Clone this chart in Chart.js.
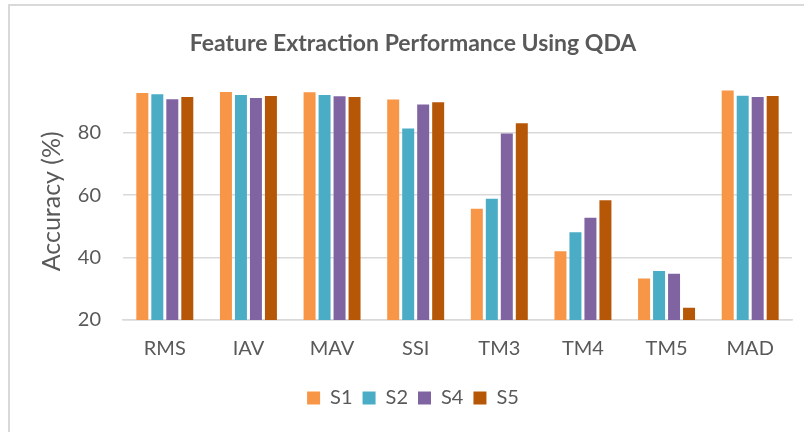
<!DOCTYPE html>
<html>
<head>
<meta charset="utf-8">
<script src="https://cdn.jsdelivr.net/npm/chart.js@4.4.1/dist/chart.umd.min.js"></script>
<style>
  html, body { margin: 0; padding: 0; background: #ffffff; }
  #frame { position: absolute; left: 8px; top: 4px; width: 900px; height: 500px; border: 2px solid #d9d9d9; box-sizing: border-box; }
  #wrap { position: absolute; left: 0; top: 0; width: 804px; height: 432px; }
</style>
</head>
<body>
<div id="frame"></div>
<div id="wrap"><canvas id="c" width="804" height="432"></canvas></div>
<script>
const categories = ['RMS', 'IAV', 'MAV', 'SSI', 'TM3', 'TM4', 'TM5', 'MAD'];
const seriesNames = ['S1', 'S2', 'S4', 'S5'];
const s1 = [92.7, 93.0, 92.9, 90.6, 55.6, 42.0, 33.3, 93.5];
const s2 = [92.3, 92.0, 92.0, 81.3, 58.8, 48.1, 35.7, 91.8];
const s4 = [90.7, 91.1, 91.6, 89.0, 79.7, 52.7, 34.8, 91.4];
const s5 = [91.4, 91.7, 91.4, 89.7, 83.0, 58.3, 23.9, 91.7];
const yTicks = [20, 40, 60, 80];
const colors = ['#F79646', '#4BACC6', '#8064A2', '#B65708'];

const values = [s1, s2, s4, s5];
const txt = '#595959';

new Chart(document.getElementById('c'), {
  type: 'bar',
  data: {
    labels: categories,
    datasets: seriesNames.map((n, i) => ({
      label: n,
      data: values[i],
      backgroundColor: colors[i],
      borderWidth: 0,
      categoryPercentage: 0.717,
      barPercentage: 0.8
    }))
  },
  options: {
    responsive: false,
    animation: false,
    layout: { padding: { left: 34, right: 12, top: 0, bottom: 14 } },
    plugins: {
      title: {
        display: true,
        text: 'Feature Extraction Performance Using QDA',
        color: txt,
        font: { family: 'Lato', size: 23, weight: 'bold', lineHeight: 1.2 },
        padding: { top: 30, bottom: 25 }
      },
      legend: {
        position: 'bottom',
        labels: {
          color: txt,
          font: { family: 'Lato', size: 20 },
          boxWidth: 13,
          boxHeight: 13,
          padding: 10
        }
      },
      tooltip: { enabled: false }
    },
    scales: {
      x: {
        grid: { display: false, drawTicks: false },
        border: { color: '#d9d9d9', width: 1.5 },
        ticks: { color: txt, font: { family: 'Lato', size: 20, lineHeight: 1.2 }, padding: 17 }
      },
      y: {
        min: 20,
        max: 96,
        afterBuildTicks: (s) => { s.ticks = yTicks.map(v => ({ value: v })); },
        afterFit: (s) => { s.width = 89; },
        grid: { color: '#d9d9d9', lineWidth: 1.5, drawTicks: false },
        border: { display: false },
        ticks: { color: txt, font: { family: 'Lato', size: 20 }, padding: 22 },
        title: {
          display: true,
          text: 'Accuracy (%)',
          color: txt,
          font: { family: 'Lato', size: 25 },
          padding: { top: 3, bottom: 0 }
        }
      }
    }
  }
});
</script>
</body>
</html>
